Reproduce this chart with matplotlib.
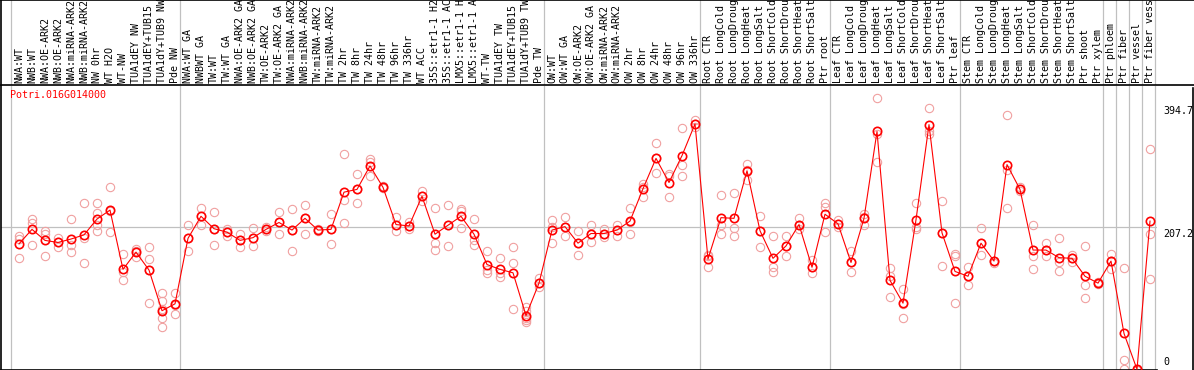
import matplotlib
matplotlib.use("Agg")
import matplotlib.pyplot as plt
from matplotlib.lines import Line2D

gene = "Potri.016G014000"

samples = [
    "NWA:WT", "NWB:WT", "NWA:OE-ARK2", "NWB:OE-ARK2", "NWA:miRNA-ARK2",
    "NWB:miRNA-ARK2", "NW 0hr", "WT H2O", "WT-NW", "TUA1dEY NW",
    "TUA1dEY+TUB15 NW", "TUA1dY+TUB9 NW", "Pde NW", "NWA:WT GA", "NWBWT GA",
    "TW:WT", "TW:WT GA", "NWA:OE-ARK2 GA", "NWB:OE-ARK2 GA", "TW:OE-ARK2",
    "TW:OE-ARK2 GA", "NWA:miRNA-ARK2 GA", "NWB:miRNA-ARK2 GA", "TW:miRNA-ARK2",
    "TW:miRNA-ARK2 GA", "TW 2hr", "TW 8hr", "TW 24hr", "TW 48hr", "TW 96hr",
    "TW 336hr", "WT ACC", "35S::etr1-1 H2O", "35S::etr1-1 ACC",
    "LMX5::etr1-1 H2O", "LMX5::etr1-1 ACC", "WT-TW", "TUA1dEY TW",
    "TUA1dEY+TUB15 TW", "TUA1dY+TUB9 TW", "Pde TW", "OW:WT", "OW:WT GA",
    "OW:OE-ARK2", "OW:OE-ARK2 GA", "OW:miRNA-ARK2", "OW:miRNA-ARK2 GA",
    "OW 2hr", "OW 8hr", "OW 24hr", "OW 48hr", "OW 96hr", "OW 336hr",
    "Root CTR", "Root LongCold", "Root LongDrought", "Root LongHeat",
    "Root LongSalt", "Root ShortCold", "Root ShortDrought", "Root ShortHeat",
    "Root ShortSalt", "Ptr root", "Leaf CTR", "Leaf LongCold",
    "Leaf LongDrought", "Leaf LongHeat", "Leaf LongSalt", "Leaf ShortCold",
    "Leaf ShortDrought", "Leaf ShortHeat", "Leaf ShortSalt", "Ptr leaf",
    "Stem CTR", "Stem LongCold", "Stem LongDrought", "Stem LongHeat",
    "Stem LongSalt", "Stem ShortCold", "Stem ShortDrought", "Stem ShortHeat",
    "Stem ShortSalt", "Ptr shoot", "Ptr xylem", "Ptr phloem", "Ptr fiber",
    "Ptr vessel", "Ptr fiber vessel",
]

means = [
    183, 204, 188, 185, 190, 196, 219, 232, 146, 171,
    145, 86, 96, 191, 223, 205, 200, 188, 192, 204,
    214, 203, 220, 203, 204, 258, 262, 296, 265, 211,
    209, 252, 197, 210, 223, 197, 153, 146, 141, 79,
    126, 203, 208, 184, 198, 198, 203, 216, 263, 307,
    272, 311, 357, 161, 221, 220, 289, 202, 162, 180,
    211, 149, 226, 212, 156, 220, 346, 130, 97, 218,
    356, 199, 143, 136, 184, 158, 298, 262, 174, 174,
    163, 162, 136, 126, 158, 53, 1, 216,
]

reps = [
    [195, 190, 163], [219, 213, 181], [202, 198, 165], [192, 185, 178],
    [219, 182, 171], [242, 191, 155], [242, 228, 210, 201], [266, 230, 200],
    [169, 142, 130], [176, 172, 164], [178, 161, 145, 97],
    [112, 100, 88, 76, 62], [111, 95, 81], [211, 191, 172], [235, 223, 211],
    [229, 204, 181], [205, 200, 195], [197, 188, 178], [206, 192, 180],
    [207, 204, 201], [229, 214, 198], [234, 203, 172], [240, 220, 198],
    [205, 203, 201], [226, 204, 183], [313, 247, 213], [284, 262, 242],
    [306, 302, 281], [267, 265, 264], [222, 211, 201], [214, 209, 204],
    [260, 252, 245], [235, 184, 174], [239, 210, 180], [233, 230, 206],
    [219, 189, 182], [172, 145, 141], [162, 140, 135], [178, 155, 89],
    [92, 86, 76, 72, 70], [133, 126, 121], [217, 207, 184], [222, 208, 195],
    [202, 184, 167], [211, 198, 186], [204, 198, 193], [210, 203, 195],
    [235, 215, 198], [270, 266, 251], [330, 307, 286], [284, 281, 251],
    [351, 297, 281], [363, 357, 352], [167, 166, 150], [254, 211, 197],
    [257, 206, 194], [299, 290, 275], [224, 202, 178], [194, 150, 142],
    [194, 180, 166], [221, 211, 204], [160, 149, 141], [242, 236, 200],
    [217, 212, 208], [173, 156, 142], [227, 222, 210], [394, 342, 302],
    [148, 137, 106], [118, 96, 76], [242, 207, 204], [380, 347, 343],
    [245, 199, 151], [168, 166, 97], [150, 136, 124], [206, 184, 167],
    [158, 158, 155], [370, 290, 235], [265, 262, 259], [210, 165, 146],
    [184, 174, 165], [191, 156, 143], [167, 163, 156], [180, 123, 104],
    [127, 126, 125], [169, 158, 147], [148, 14, 1], [0, 0, 0],
    [320, 197, 132],
]

# group boundaries (index of first sample in each group)
group_starts = [0, 13, 41, 53, 63, 73, 84, 85, 86, 87, 88]
ref_lines = [207.2]
right_labels = [("394.7", 394.7, "top"), ("207.2", 207.2, "top"), ("0", 0, "bottom")]

W, H = 1194, 370
x0, step = 19, 13          # pixel of first sample, pixels per sample
plot_l, plot_r = 1, 1157
plot_top = 86
head_bot = 85
ymax = 412
upp = ymax / (H - plot_top)  # data units per pixel

mono = "DejaVu Sans Mono"
fs = 7.2
grey = "#c0c0c0"
pink = "#f0a0a0"

fig = plt.figure(figsize=(W / 100, H / 100), dpi=100)

ax = fig.add_axes([plot_l / W, 0, (plot_r - plot_l) / W, (H - plot_top) / H])
ax.set_xlim((plot_l - x0) / step, (plot_r - x0) / step)
ax.set_ylim(0, ymax)

hx = fig.add_axes([plot_l / W, (H - head_bot) / H, (W - plot_l) / W, head_bot / H])
hx.set_xlim((plot_l - x0) / step, (W - x0) / step)
hx.set_ylim(0, head_bot)

for a in (ax, hx):
    a.set_xticks([])
    a.set_yticks([])
    for g in group_starts:
        a.axvline(g - 0.62, color=grey, lw=0.9, zorder=0)

for s in ("top", "right"):
    ax.spines[s].set_visible(False)
ax.spines["left"].set_linewidth(1.2)
ax.spines["bottom"].set_linewidth(1.2)
hx.spines["right"].set_visible(False)
for s in ("top", "bottom", "left"):
    hx.spines[s].set_linewidth(1.2)

# right border of the value panel
fig.add_artist(Line2D([1192.5 / W, 1192.5 / W], [0, (H - 88) / H],
                      color="black", lw=1.2))

for v in ref_lines:
    ax.axhline(v, color=grey, lw=0.9, zorder=0)

for i, r in enumerate(reps):
    ax.plot([i] * len(r), r, "o", ms=6, mfc="none", mec=pink, mew=0.8,
            clip_on=True, zorder=2)

ax.plot(range(len(means)), means, "-", color="red", lw=0.8, zorder=3)
ax.plot(range(len(means)), means, "o", ms=6, mfc="none", mec="red",
        mew=1.2, zorder=4)

for i, name in enumerate(samples):
    hx.text(i, 2, name, rotation=90, ha="center", va="bottom",
            fontfamily=mono, fontsize=fs, clip_on=True)

ax.text((10 - plot_l) / (plot_r - plot_l), 1 - 4 / (H - plot_top), gene,
        transform=ax.transAxes, color="red", fontfamily=mono, fontsize=fs,
        va="top", ha="left")

tr = ax.get_yaxis_transform()
offs = {"394.7": -8 * upp, "207.2": -2 * upp, "0": 3 * upp}
for txt, v, va in right_labels:
    ax.text((1163 - plot_l) / (plot_r - plot_l), v + offs[txt], txt,
            transform=tr, fontfamily=mono, fontsize=fs, va=va, ha="left",
            clip_on=False)

fig.savefig("out.png", dpi=100)
